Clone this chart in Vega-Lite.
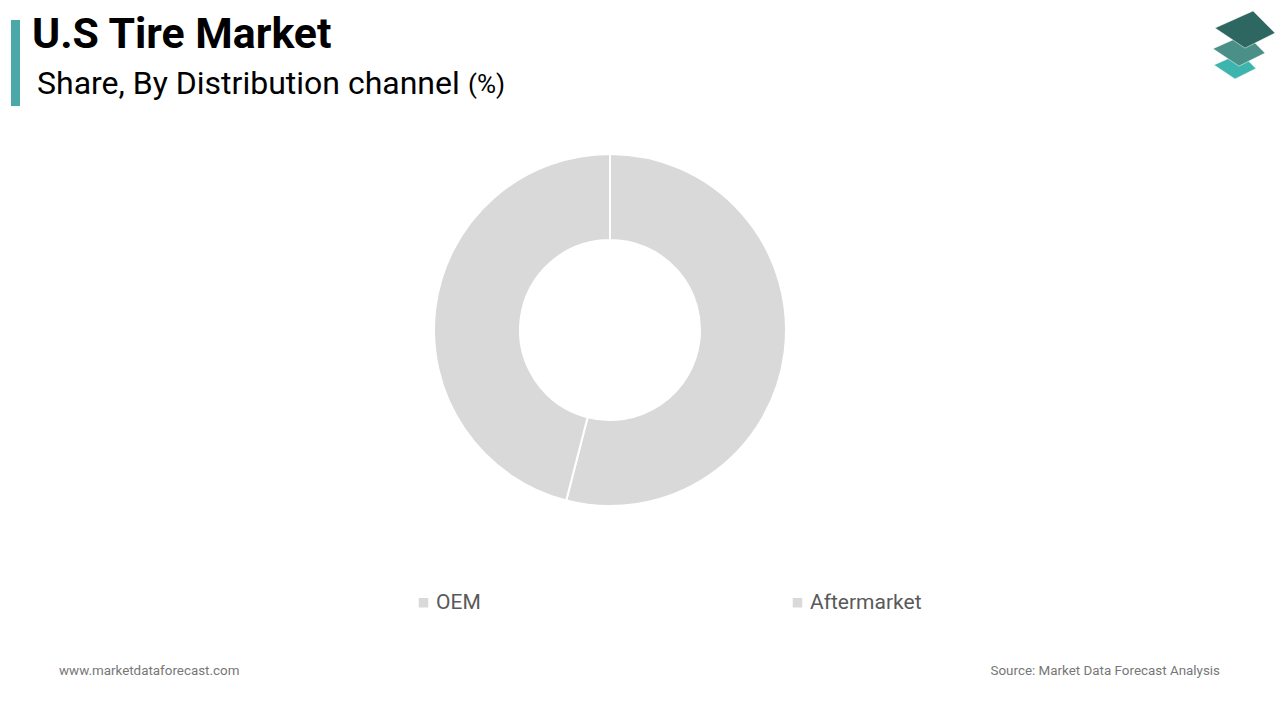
{
  "$schema": "https://vega.github.io/schema/vega-lite/v6.json",
  "width": 1280,
  "height": 720,
  "autosize": {"type": "fit", "contains": "padding"},
  "padding": {"left": 0, "top": 0, "right": 60, "bottom": 60},
  "background": "white",
  "config": {"view": {"stroke": null}, "font": "Roboto"},
  "layer": [
    {
      "data": {"values": [
        {"channel": "OEM", "share": 54, "idx": 1},
        {"channel": "Aftermarket", "share": 46, "idx": 2}
      ]},
      "mark": {"type": "arc", "outerRadius": 176, "innerRadius": 90, "stroke": "white", "strokeWidth": 2},
      "encoding": {
        "theta": {"field": "share", "type": "quantitative", "stack": true},
        "order": {"field": "idx", "type": "quantitative"},
        "color": {
          "field": "channel",
          "type": "nominal",
          "scale": {"domain": ["OEM", "Aftermarket"], "range": ["#d9d9d9", "#d9d9d9"]},
          "legend": {
            "title": null,
            "orient": "none",
            "direction": "horizontal",
            "legendX": 413,
            "legendY": 592,
            "padding": 0,
            "symbolType": "square",
            "symbolSize": 90,
            "symbolStrokeWidth": 0,
            "labelFontSize": 21,
            "labelColor": "#595959",
            "labelFont": "Roboto",
            "labelOffset": 2,
            "columnPadding": 306
          }
        }
      }
    },
    {
      "data": {"values": [{"x1": 11, "x2": 20, "y1": 20, "y2": 106}]},
      "mark": {"type": "rect", "color": "#4aa9a8"},
      "encoding": {
        "x": {"field": "x1", "type": "quantitative", "scale": null},
        "x2": {"field": "x2"},
        "y": {"field": "y1", "type": "quantitative", "scale": null},
        "y2": {"field": "y2"}
      }
    },
    {
      "data": {"values": [{"t": "U.S Tire Market", "x": 32, "y": 48}]},
      "mark": {"type": "text", "baseline": "alphabetic", "align": "left", "fontSize": 42.8, "fontWeight": "bold", "color": "#000000"},
      "encoding": {
        "x": {"field": "x", "type": "quantitative", "scale": null},
        "y": {"field": "y", "type": "quantitative", "scale": null},
        "text": {"field": "t"}
      }
    },
    {
      "data": {"values": [{"t": "Share, By Distribution channel", "x": 37, "y": 94}]},
      "mark": {"type": "text", "baseline": "alphabetic", "align": "left", "fontSize": 32, "color": "#000000"},
      "encoding": {
        "x": {"field": "x", "type": "quantitative", "scale": null},
        "y": {"field": "y", "type": "quantitative", "scale": null},
        "text": {"field": "t"}
      }
    },
    {
      "data": {"values": [{"t": "(%)", "x": 468, "y": 93}]},
      "mark": {"type": "text", "baseline": "alphabetic", "align": "left", "fontSize": 26, "color": "#000000"},
      "encoding": {
        "x": {"field": "x", "type": "quantitative", "scale": null},
        "y": {"field": "y", "type": "quantitative", "scale": null},
        "text": {"field": "t"}
      }
    },
    {
      "data": {"values": [{"t": "www.marketdataforecast.com", "x": 59, "y": 675}]},
      "mark": {"type": "text", "baseline": "alphabetic", "align": "left", "fontSize": 13.4, "color": "#777777"},
      "encoding": {
        "x": {"field": "x", "type": "quantitative", "scale": null},
        "y": {"field": "y", "type": "quantitative", "scale": null},
        "text": {"field": "t"}
      }
    },
    {
      "data": {"values": [{"t": "Source: Market Data Forecast Analysis", "x": 1220, "y": 675}]},
      "mark": {"type": "text", "baseline": "alphabetic", "align": "right", "fontSize": 13.4, "color": "#777777"},
      "encoding": {
        "x": {"field": "x", "type": "quantitative", "scale": null},
        "y": {"field": "y", "type": "quantitative", "scale": null},
        "text": {"field": "t"}
      }
    },
    {
      "data": {"values": [
        {"x": 1235, "y": 66, "s": 1760, "c": "#3db5ae"},
        {"x": 1239, "y": 50, "s": 2700, "c": "#4a8f88"},
        {"x": 1245, "y": 29.5, "s": 3600, "c": "#2e6661"}
      ]},
      "mark": {"type": "point", "filled": true, "opacity": 1, "shape": "M-1,-0.05L0.27,-0.62L1,0.12L0,0.62Z", "stroke": "white", "strokeWidth": 0.5},
      "encoding": {
        "x": {"field": "x", "type": "quantitative", "scale": null},
        "y": {"field": "y", "type": "quantitative", "scale": null},
        "size": {"field": "s", "type": "quantitative", "scale": null},
        "color": {"field": "c", "type": "nominal", "scale": null},
        "order": {"field": "s", "type": "quantitative"}
      }
    }
  ]
}
